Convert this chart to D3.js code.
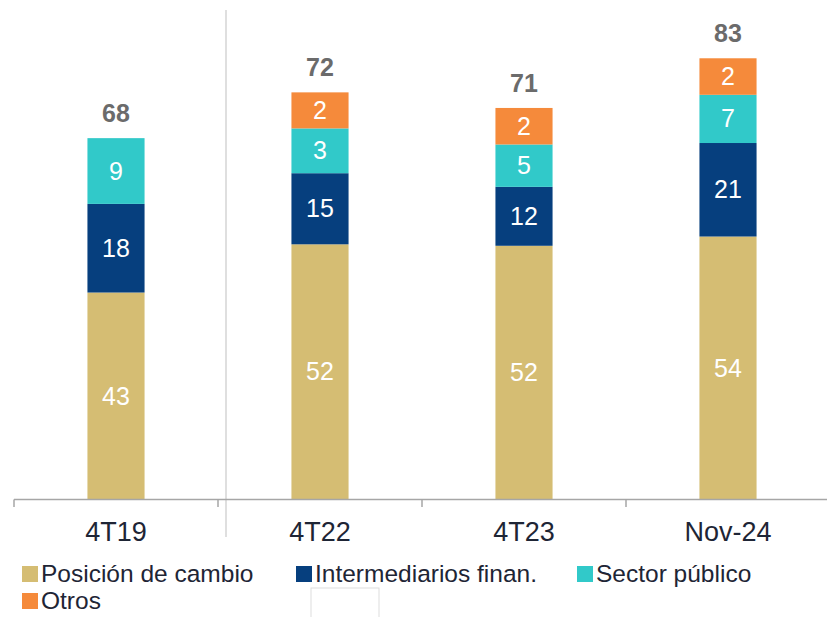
<!DOCTYPE html>
<html>
<head>
<meta charset="utf-8">
<script src="https://cdn.jsdelivr.net/npm/d3@7"></script>
<style>
  body { margin: 0; background: #fff; }
  svg { display: block; font-family: "Liberation Sans", Arial, sans-serif; }
</style>
</head>
<body>
<script>
// Categorías y valores (etiquetas del gráfico)
var categorias = ["4T19", "4T22", "4T23", "Nov-24"];
var posicion = [43, 52, 52, 54];
var intermediarios = [18, 15, 12, 21];
var sectorPublico = [9, 3, 5, 7];
var otros = [null, 2, 2, 2];
var totales = [68, 72, 71, 83];

// Altura visible de cada tramo (los tramos pequeños vienen ampliados)
var altPosicion = [42.5, 52.4, 52.1, 54.0];
var altIntermediarios = [18.2, 14.6, 12.1, 19.2];
var altSector = [13.5, 9.2, 8.7, 9.9];
var altOtros = [0, 7.4, 7.5, 7.5];

var series = [
  { nombre: "Posición de cambio", color: "#d5bd73", etiquetas: posicion, alturas: altPosicion },
  { nombre: "Intermediarios finan.", color: "#063f7e", etiquetas: intermediarios, alturas: altIntermediarios },
  { nombre: "Sector público", color: "#31c9c9", etiquetas: sectorPublico, alturas: altSector },
  { nombre: "Otros", color: "#f58a3b", etiquetas: otros, alturas: altOtros }
];

var width = 827, height = 617;

var svg = d3.select("body").append("svg")
    .attr("width", width)
    .attr("height", height);

// escalas
var x = d3.scaleBand()
    .domain(categorias)
    .range([14, 830])
    .paddingInner(0.72)
    .paddingOuter(0.36);

var xb = d3.scaleBand()
    .domain(categorias)
    .range([14, 830]);

var y = d3.scaleLinear()
    .domain([0, 100])
    .range([499.5, 12.5]);

// linea separadora vertical
svg.append("line")
    .attr("x1", 226).attr("x2", 226)
    .attr("y1", 10).attr("y2", 537)
    .attr("stroke", "#d4d4d4")
    .attr("stroke-width", 1.5);

// apilado
var tabla = categorias.map(function(c, i) {
    var fila = { cat: c };
    series.forEach(function(s, j) { fila["s" + j] = s.alturas[i]; });
    return fila;
});
var stack = d3.stack().keys(series.map(function(s, j) { return "s" + j; }));
var capas = stack(tabla);

var g = svg.append("g");
capas.forEach(function(capa, j) {
    var s = series[j];
    g.selectAll(".seg" + j)
        .data(capa)
        .enter().append("rect")
        .attr("x", function(d) { return x(d.data.cat); })
        .attr("width", x.bandwidth())
        .attr("y", function(d) { return y(d[1]); })
        .attr("height", function(d) { return y(d[0]) - y(d[1]); })
        .attr("fill", s.color);

    g.selectAll(".lab" + j)
        .data(capa)
        .enter().append("text")
        .filter(function(d, i) { return s.etiquetas[i] != null; })
        .attr("x", function(d) { return x(d.data.cat) + x.bandwidth() / 2; })
        .attr("y", function(d) { return (y(d[0]) + y(d[1])) / 2 + 8.5; })
        .attr("text-anchor", "middle")
        .attr("font-size", 25)
        .attr("fill", "#ffffff")
        .text(function(d) { return s.etiquetas[categorias.indexOf(d.data.cat)]; });
});

// totales
var ultima = capas[capas.length - 1];
svg.selectAll(".total")
    .data(ultima)
    .enter().append("text")
    .attr("x", function(d) { return x(d.data.cat) + x.bandwidth() / 2; })
    .attr("y", function(d) { return y(d[1]) - 16; })
    .attr("text-anchor", "middle")
    .attr("font-size", 25)
    .attr("font-weight", "bold")
    .attr("fill", "#6b6b6b")
    .text(function(d, i) { return totales[i]; });

// eje x
svg.append("line")
    .attr("x1", 14).attr("x2", 827)
    .attr("y1", 499.5).attr("y2", 499.5)
    .attr("stroke", "#a6a6a6")
    .attr("stroke-width", 1.5);

var bordes = categorias.map(function(c) { return xb(c); }).concat([xb.range()[1]]);
svg.selectAll(".tick")
    .data(bordes)
    .enter().append("line")
    .attr("x1", function(d) { return d; })
    .attr("x2", function(d) { return d; })
    .attr("y1", 499.5).attr("y2", 507)
    .attr("stroke", "#a6a6a6")
    .attr("stroke-width", 1.5);

svg.selectAll(".xlab")
    .data(categorias)
    .enter().append("text")
    .attr("x", function(d) { return xb(d) + xb.bandwidth() / 2; })
    .attr("y", 541)
    .attr("text-anchor", "middle")
    .attr("font-size", 27)
    .attr("fill", "#1e2535")
    .text(function(d) { return d; });

// recuadro vacío bajo la leyenda
svg.append("rect")
    .attr("x", 311).attr("y", 588)
    .attr("width", 68).attr("height", 40)
    .attr("fill", "#fff")
    .attr("stroke", "#dddddd");

// leyenda
var posLeyenda = [[22, 582], [296, 582], [577, 582], [22, 609]];
var ley = svg.selectAll(".ley")
    .data(series)
    .enter().append("g")
    .attr("transform", function(d, i) { return "translate(" + posLeyenda[i][0] + "," + posLeyenda[i][1] + ")"; });
ley.append("rect")
    .attr("x", 0).attr("y", -16)
    .attr("width", 16).attr("height", 16)
    .attr("fill", function(d) { return d.color; });
ley.append("text")
    .attr("x", 19)
    .attr("y", 0)
    .attr("font-size", 24.5)
    .attr("fill", "#1e2535")
    .text(function(d) { return d.nombre; });
</script>
</body>
</html>
